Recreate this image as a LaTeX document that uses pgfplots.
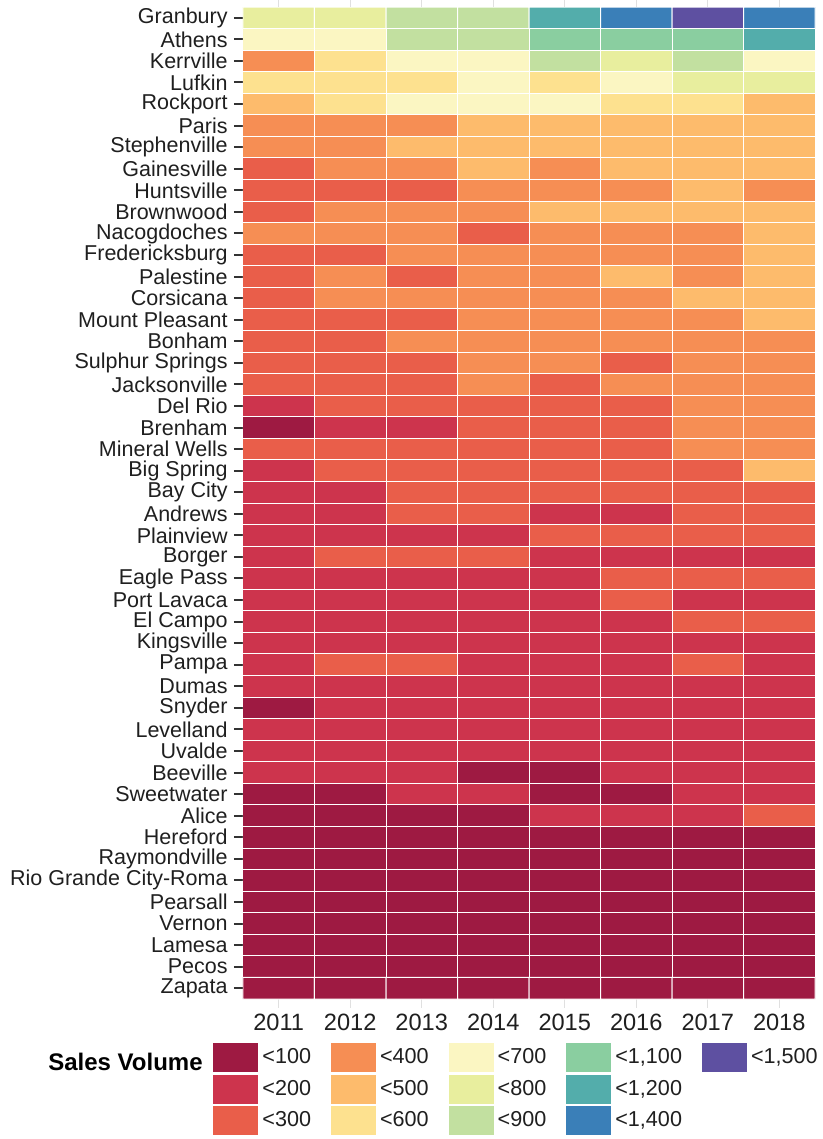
\documentclass[border=0pt]{standalone}
\usepackage{fontspec}
\setmainfont{Liberation Sans}
\usepackage{pgfplots}
\pgfplotsset{compat=1.18}
\definecolor{c1}{RGB}{158,26,66}
\definecolor{c2}{RGB}{205,52,77}
\definecolor{c3}{RGB}{233,94,74}
\definecolor{c4}{RGB}{246,142,84}
\definecolor{c5}{RGB}{253,187,108}
\definecolor{c6}{RGB}{253,225,143}
\definecolor{c7}{RGB}{251,246,194}
\definecolor{c8}{RGB}{232,238,158}
\definecolor{c9}{RGB}{194,224,160}
\definecolor{c10}{RGB}{138,206,160}
\definecolor{c11}{RGB}{83,173,171}
\definecolor{c12}{RGB}{58,127,184}
\definecolor{c13}{RGB}{94,80,161}
\begin{document}
\begin{tikzpicture}
\useasboundingbox (-121.5pt,-70pt) rectangle (290pt,499.5pt);
\begin{axis}[
  at={(0,0)}, anchor=south west,
  scale only axis, width=286pt, height=496pt,
  xmin=-0.5, xmax=7.5, ymin=-0.5, ymax=45.5, y dir=reverse,
  enlargelimits=false,
  axis line style={draw=none},
  xtick={0,1,2,3,4,5,6,7},
  xticklabels={2011,2012,2013,2014,2015,2016,2017,2018},
  ytick={0,...,45},
  yticklabels={Granbury,Athens,Kerrville,Lufkin,Rockport,Paris,Stephenville,Gainesville,Huntsville,Brownwood,Nacogdoches,Fredericksburg,Palestine,Corsicana,Mount Pleasant,Bonham,Sulphur Springs,Jacksonville,Del Rio,Brenham,Mineral Wells,Big Spring,Bay City,Andrews,Plainview,Borger,Eagle Pass,Port Lavaca,El Campo,Kingsville,Pampa,Dumas,Snyder,Levelland,Uvalde,Beeville,Sweetwater,Alice,Hereford,Raymondville,Rio Grande City-Roma,Pearsall,Vernon,Lamesa,Pecos,Zapata},
  tick align=outside,
  ytick pos=left,
  xtick pos=both,
  major tick length=4.5pt,
  y tick style={draw=black!80, line width=1pt},
  x tick style={draw=black!12, line width=0.5pt},
  yticklabel style={font=\fontsize{10.75}{13}\selectfont, text=black!88, inner sep=0pt, xshift=-3pt},
  xticklabel style={font=\fontsize{11.8}{13}\selectfont, text=black!88, yshift=0.5pt},
  /pgf/number format/assume math mode=true,
  colormap={spec}{rgb255=(158,26,66) rgb255=(205,52,77) rgb255=(233,94,74) rgb255=(246,142,84) rgb255=(253,187,108) rgb255=(253,225,143) rgb255=(251,246,194) rgb255=(232,238,158) rgb255=(194,224,160) rgb255=(138,206,160) rgb255=(83,173,171) rgb255=(58,127,184) rgb255=(94,80,161)},
  colormap access=direct,
  legend columns=5,
  legend cell align=left,
  legend image code/.code={\path[#1] (0pt,-7.25pt) rectangle (22.5pt,7.25pt);},
  legend style={font=\fontsize{10.8}{13}\selectfont, draw=none, fill=none,
    at={(axis description cs:0,0)}, anchor=north west, xshift=-15pt, yshift=-22pt,
    inner sep=0pt, row sep=1.2pt,
    nodes={inner sep=1pt, text=black!88},
    /tikz/every odd column/.append style={column sep=1pt},
    /tikz/every even column/.append style={column sep=9pt}},
]
\addplot[matrix plot*, mesh/cols=8, point meta=explicit, draw=white, line width=0.5pt, forget plot]
table[row sep=\\, meta=c] {
x y c\\
0 0 7\\ 1 0 7\\ 2 0 8\\ 3 0 8\\ 4 0 10\\ 5 0 11\\ 6 0 12\\ 7 0 11\\
0 1 6\\ 1 1 6\\ 2 1 8\\ 3 1 8\\ 4 1 9\\ 5 1 9\\ 6 1 9\\ 7 1 10\\
0 2 3\\ 1 2 5\\ 2 2 6\\ 3 2 6\\ 4 2 8\\ 5 2 7\\ 6 2 8\\ 7 2 6\\
0 3 5\\ 1 3 5\\ 2 3 5\\ 3 3 6\\ 4 3 5\\ 5 3 6\\ 6 3 7\\ 7 3 7\\
0 4 4\\ 1 4 5\\ 2 4 6\\ 3 4 6\\ 4 4 6\\ 5 4 5\\ 6 4 5\\ 7 4 4\\
0 5 3\\ 1 5 3\\ 2 5 3\\ 3 5 4\\ 4 5 4\\ 5 5 4\\ 6 5 4\\ 7 5 4\\
0 6 3\\ 1 6 3\\ 2 6 4\\ 3 6 4\\ 4 6 4\\ 5 6 4\\ 6 6 4\\ 7 6 4\\
0 7 2\\ 1 7 3\\ 2 7 3\\ 3 7 4\\ 4 7 3\\ 5 7 4\\ 6 7 4\\ 7 7 4\\
0 8 2\\ 1 8 2\\ 2 8 2\\ 3 8 3\\ 4 8 3\\ 5 8 3\\ 6 8 4\\ 7 8 3\\
0 9 2\\ 1 9 3\\ 2 9 3\\ 3 9 3\\ 4 9 4\\ 5 9 4\\ 6 9 4\\ 7 9 4\\
0 10 3\\ 1 10 3\\ 2 10 3\\ 3 10 2\\ 4 10 3\\ 5 10 3\\ 6 10 3\\ 7 10 4\\
0 11 2\\ 1 11 2\\ 2 11 3\\ 3 11 3\\ 4 11 3\\ 5 11 3\\ 6 11 3\\ 7 11 4\\
0 12 2\\ 1 12 3\\ 2 12 2\\ 3 12 3\\ 4 12 3\\ 5 12 4\\ 6 12 3\\ 7 12 4\\
0 13 2\\ 1 13 3\\ 2 13 3\\ 3 13 3\\ 4 13 3\\ 5 13 3\\ 6 13 4\\ 7 13 4\\
0 14 2\\ 1 14 2\\ 2 14 2\\ 3 14 3\\ 4 14 3\\ 5 14 3\\ 6 14 3\\ 7 14 4\\
0 15 2\\ 1 15 2\\ 2 15 3\\ 3 15 3\\ 4 15 3\\ 5 15 3\\ 6 15 3\\ 7 15 3\\
0 16 2\\ 1 16 2\\ 2 16 2\\ 3 16 3\\ 4 16 3\\ 5 16 2\\ 6 16 3\\ 7 16 3\\
0 17 2\\ 1 17 2\\ 2 17 2\\ 3 17 3\\ 4 17 2\\ 5 17 3\\ 6 17 3\\ 7 17 3\\
0 18 1\\ 1 18 2\\ 2 18 2\\ 3 18 2\\ 4 18 2\\ 5 18 2\\ 6 18 3\\ 7 18 3\\
0 19 0\\ 1 19 1\\ 2 19 1\\ 3 19 2\\ 4 19 2\\ 5 19 2\\ 6 19 3\\ 7 19 3\\
0 20 2\\ 1 20 2\\ 2 20 2\\ 3 20 2\\ 4 20 2\\ 5 20 2\\ 6 20 3\\ 7 20 3\\
0 21 1\\ 1 21 2\\ 2 21 2\\ 3 21 2\\ 4 21 2\\ 5 21 2\\ 6 21 2\\ 7 21 4\\
0 22 1\\ 1 22 1\\ 2 22 2\\ 3 22 2\\ 4 22 2\\ 5 22 2\\ 6 22 2\\ 7 22 2\\
0 23 1\\ 1 23 1\\ 2 23 2\\ 3 23 2\\ 4 23 1\\ 5 23 1\\ 6 23 2\\ 7 23 2\\
0 24 1\\ 1 24 1\\ 2 24 1\\ 3 24 1\\ 4 24 2\\ 5 24 2\\ 6 24 2\\ 7 24 2\\
0 25 1\\ 1 25 2\\ 2 25 2\\ 3 25 2\\ 4 25 1\\ 5 25 1\\ 6 25 1\\ 7 25 1\\
0 26 1\\ 1 26 1\\ 2 26 1\\ 3 26 1\\ 4 26 1\\ 5 26 2\\ 6 26 2\\ 7 26 2\\
0 27 1\\ 1 27 1\\ 2 27 1\\ 3 27 1\\ 4 27 1\\ 5 27 2\\ 6 27 1\\ 7 27 1\\
0 28 1\\ 1 28 1\\ 2 28 1\\ 3 28 1\\ 4 28 1\\ 5 28 1\\ 6 28 2\\ 7 28 2\\
0 29 1\\ 1 29 1\\ 2 29 1\\ 3 29 1\\ 4 29 1\\ 5 29 1\\ 6 29 1\\ 7 29 1\\
0 30 1\\ 1 30 2\\ 2 30 2\\ 3 30 1\\ 4 30 1\\ 5 30 1\\ 6 30 2\\ 7 30 1\\
0 31 1\\ 1 31 1\\ 2 31 1\\ 3 31 1\\ 4 31 1\\ 5 31 1\\ 6 31 1\\ 7 31 1\\
0 32 0\\ 1 32 1\\ 2 32 1\\ 3 32 1\\ 4 32 1\\ 5 32 1\\ 6 32 1\\ 7 32 1\\
0 33 1\\ 1 33 1\\ 2 33 1\\ 3 33 1\\ 4 33 1\\ 5 33 1\\ 6 33 1\\ 7 33 1\\
0 34 1\\ 1 34 1\\ 2 34 1\\ 3 34 1\\ 4 34 1\\ 5 34 1\\ 6 34 1\\ 7 34 1\\
0 35 1\\ 1 35 1\\ 2 35 1\\ 3 35 0\\ 4 35 0\\ 5 35 1\\ 6 35 1\\ 7 35 1\\
0 36 0\\ 1 36 0\\ 2 36 1\\ 3 36 1\\ 4 36 0\\ 5 36 0\\ 6 36 1\\ 7 36 1\\
0 37 0\\ 1 37 0\\ 2 37 0\\ 3 37 0\\ 4 37 1\\ 5 37 1\\ 6 37 1\\ 7 37 2\\
0 38 0\\ 1 38 0\\ 2 38 0\\ 3 38 0\\ 4 38 0\\ 5 38 0\\ 6 38 0\\ 7 38 0\\
0 39 0\\ 1 39 0\\ 2 39 0\\ 3 39 0\\ 4 39 0\\ 5 39 0\\ 6 39 0\\ 7 39 0\\
0 40 0\\ 1 40 0\\ 2 40 0\\ 3 40 0\\ 4 40 0\\ 5 40 0\\ 6 40 0\\ 7 40 0\\
0 41 0\\ 1 41 0\\ 2 41 0\\ 3 41 0\\ 4 41 0\\ 5 41 0\\ 6 41 0\\ 7 41 0\\
0 42 0\\ 1 42 0\\ 2 42 0\\ 3 42 0\\ 4 42 0\\ 5 42 0\\ 6 42 0\\ 7 42 0\\
0 43 0\\ 1 43 0\\ 2 43 0\\ 3 43 0\\ 4 43 0\\ 5 43 0\\ 6 43 0\\ 7 43 0\\
0 44 0\\ 1 44 0\\ 2 44 0\\ 3 44 0\\ 4 44 0\\ 5 44 0\\ 6 44 0\\ 7 44 0\\
0 45 0\\ 1 45 0\\ 2 45 0\\ 3 45 0\\ 4 45 0\\ 5 45 0\\ 6 45 0\\ 7 45 0\\
};
\addlegendimage{fill=c1, draw=none}\addlegendentry{<100}
\addlegendimage{fill=c4, draw=none}\addlegendentry{<400}
\addlegendimage{fill=c7, draw=none}\addlegendentry{<700}
\addlegendimage{fill=c10, draw=none}\addlegendentry{<1,100}
\addlegendimage{fill=c13, draw=none}\addlegendentry{<1,500}
\addlegendimage{fill=c2, draw=none}\addlegendentry{<200}
\addlegendimage{fill=c5, draw=none}\addlegendentry{<500}
\addlegendimage{fill=c8, draw=none}\addlegendentry{<800}
\addlegendimage{fill=c11, draw=none}\addlegendentry{<1,200}
\addlegendimage{empty legend}\addlegendentry{}
\addlegendimage{fill=c3, draw=none}\addlegendentry{<300}
\addlegendimage{fill=c6, draw=none}\addlegendentry{<600}
\addlegendimage{fill=c9, draw=none}\addlegendentry{<900}
\addlegendimage{fill=c12, draw=none}\addlegendentry{<1,400}
\end{axis}
\node[anchor=east, inner sep=0pt, font=\bfseries\fontsize{12}{14}\selectfont, text=black] at (-20pt,-31.5pt) {Sales Volume};
\end{tikzpicture}
\end{document}
